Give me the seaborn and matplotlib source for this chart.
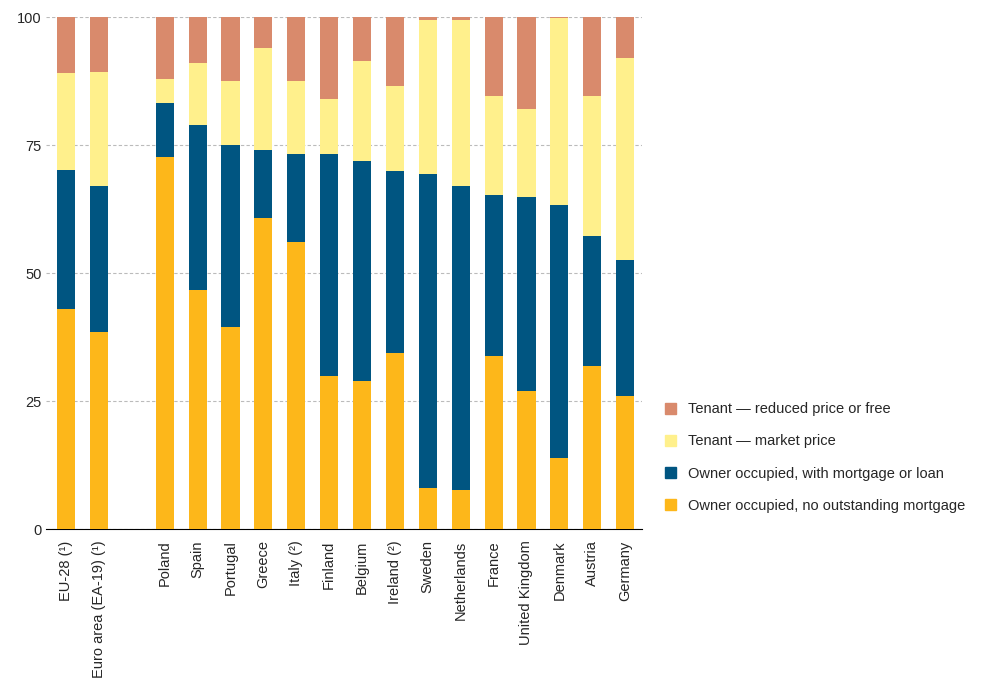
import numpy as np
import pandas as pd
import seaborn as sns
import matplotlib.pyplot as plt
from matplotlib.patches import Patch

countries = ["EU-28 (¹)", "Euro area (EA-19) (¹)", "", "Poland", "Spain", "Portugal", "Greece",
             "Italy (²)", "Finland", "Belgium", "Ireland (²)", "Sweden", "Netherlands", "France",
             "United Kingdom", "Denmark", "Austria", "Germany"]
# cumulative tops of each layer
owner_no_mortgage = [43.0, 38.5, 0, 72.7, 46.7, 39.5, 60.7, 56.0, 30.0, 29.0, 34.4, 8.0, 7.6, 33.8, 27.1, 14.0, 31.8, 26.0]
owner_mortgage_top = [70.1, 67.0, 0, 83.3, 79.0, 75.0, 74.0, 73.3, 73.3, 72.0, 70.0, 69.3, 67.0, 65.2, 64.8, 63.3, 57.2, 52.5]
tenant_market_top = [89.0, 89.3, 0, 88.0, 91.0, 87.5, 94.0, 87.5, 84.0, 91.5, 86.5, 99.5, 99.5, 84.5, 82.0, 99.8, 84.5, 92.0]
tenant_reduced_top = [100, 100, 0] + [100] * 15

labels = ["Tenant — reduced price or free", "Tenant — market price",
          "Owner occupied, with mortgage or loan", "Owner occupied, no outstanding mortgage"]
colors = ["#D98A6C", "#FFF08C", "#005581", "#FDB71A"]

sns.set_style("white")
plt.rcParams['font.family'] = ['Liberation Sans', 'DejaVu Sans']
fig = plt.figure(figsize=(9.87, 6.83), dpi=100)
ax = fig.add_axes([0.047, 0.225, 0.603, 0.75])

df = pd.DataFrame({"country": countries})
for vals, col in zip([tenant_reduced_top, tenant_market_top, owner_mortgage_top, owner_no_mortgage], colors):
    df["v"] = vals
    sns.barplot(data=df, x="country", y="v", order=countries, color=col, width=0.55,
                saturation=1, ax=ax, linewidth=0, zorder=3)

ax.set_ylim(0, 100)
ax.set_xlim(-0.6, len(countries) - 0.6)
ax.set_yticks([0, 25, 50, 75, 100])
ax.yaxis.grid(True, linestyle=(0, (3, 2)), color="#BBBBBB", linewidth=0.8)
ax.set_xlabel("")
ax.set_ylabel("")
for s in ["top", "right", "left"]:
    ax.spines[s].set_visible(False)
ax.spines["bottom"].set_color("black")
ax.set_xticks(np.arange(len(countries)))
ax.set_xticklabels(countries, rotation=90, fontsize=10.5)
ax.set_xticks(np.arange(len(countries) + 1) - 0.5, minor=True)
ax.tick_params(axis="x", which="major", length=0, pad=8)
ax.tick_params(axis="x", which="minor", length=5, color="black", direction="out")
ax.tick_params(axis="y", length=0, labelsize=10.5)

handles = [Patch(color=c, label=l) for c, l in zip(colors, labels)]
fig.legend(handles=handles, loc="center left", bbox_to_anchor=(0.66, 0.33), frameon=False,
           fontsize=10.5, handlelength=0.8, handleheight=0.8, labelspacing=1.25)

fig.savefig("out.png", dpi=100)
